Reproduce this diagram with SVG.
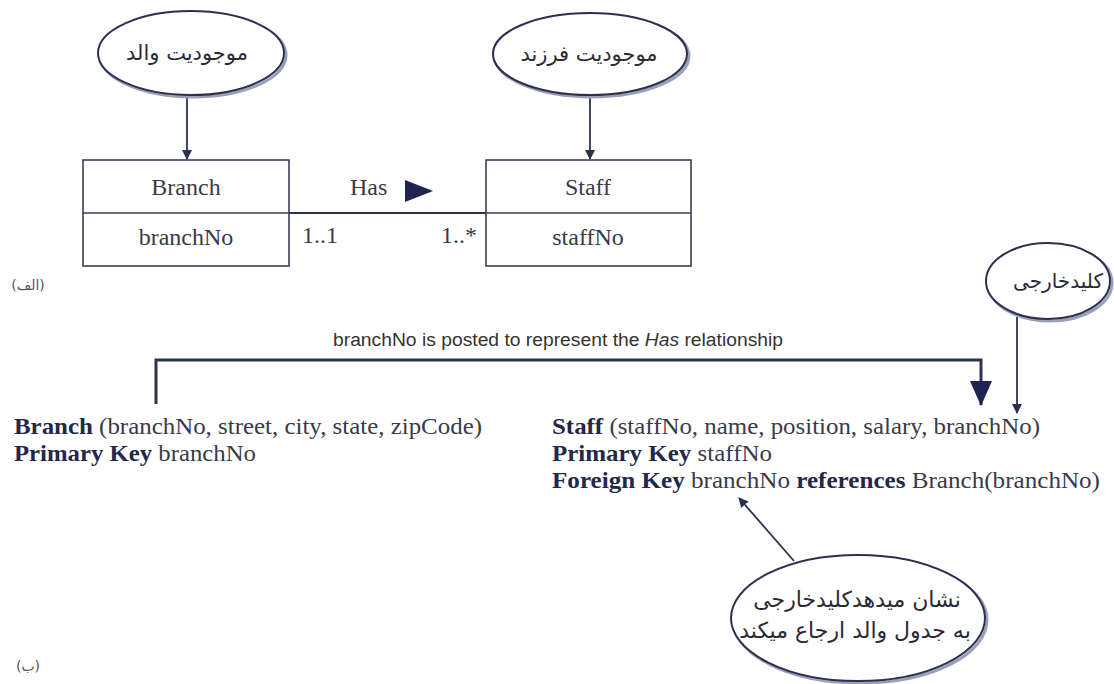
<svg xmlns="http://www.w3.org/2000/svg" width="1114" height="684" viewBox="0 0 1114 684">
<defs>
<style>
.ell{fill:#fff;stroke:#2b3050;stroke-width:2}
.sh{fill:none;stroke:#9aa0b8;stroke-width:3}
.fa{font-family:"DejaVu Sans",sans-serif;font-size:21px;fill:#2a2a35;text-anchor:middle}
.box{fill:#fff;stroke:#3a3f55;stroke-width:1.6}
.ln{fill:none;stroke:#2e3350;stroke-width:1.8}
.sr{font-family:"Liberation Serif",serif;font-size:24px;fill:#3a3a48}
.bx{font-family:"Liberation Serif",serif;font-size:24px;fill:#3a3a48}
.b{font-weight:bold;fill:#232848}
.c{text-anchor:middle}
.sm{font-family:"DejaVu Sans",sans-serif;font-size:14px;fill:#555;text-anchor:middle}
.tt{font-family:"Liberation Sans",sans-serif;font-size:18px;fill:#333;text-anchor:middle}
</style>
<marker id="ah" markerWidth="10" markerHeight="12" refX="9" refY="6" orient="auto" markerUnits="userSpaceOnUse"><path d="M0,1 L10,6 L0,11 Z" fill="#2b3050"/></marker>
<marker id="big" markerWidth="26" markerHeight="22" refX="24" refY="11" orient="auto" markerUnits="userSpaceOnUse"><path d="M0,0 L25,11 L0,22 Z" fill="#1f2550"/></marker>
</defs>

<g id="connectors">
<line class="ln" x1="187" y1="95" x2="187" y2="159" marker-end="url(#ah)"/>
<line class="ln" x1="590" y1="95" x2="590" y2="159" marker-end="url(#ah)"/>
<line class="ln" x1="289" y1="213" x2="486" y2="213"/>
<path class="ln" style="stroke-width:3" d="M156,404 V360 H981 V405" marker-end="url(#big)"/>
<line class="ln" x1="1017" y1="317" x2="1017" y2="413" marker-end="url(#ah)"/>
<line class="ln" x1="794" y1="561" x2="739" y2="498" marker-end="url(#ah)"/>
</g>

<g id="parent-entity">
<ellipse class="sh" cx="193" cy="55" rx="93" ry="42"/>
<ellipse class="ell" cx="191" cy="53" rx="93" ry="42"/>
<text class="fa" x="187" y="60">موجودیت والد</text>
</g>

<g id="child-entity">
<ellipse class="sh" cx="592" cy="56" rx="97" ry="41"/>
<ellipse class="ell" cx="590" cy="54" rx="97" ry="41"/>
<text class="fa" x="589" y="61">موجودیت فرزند</text>
</g>

<g id="branch-box">
<rect class="box" x="83" y="160" width="206" height="106"/>
<line class="box" x1="83" y1="213" x2="289" y2="213"/>
<text class="bx c" x="186" y="195">Branch</text>
<text class="bx c" x="186" y="245">branchNo</text>
</g>

<g id="staff-box">
<rect class="box" x="486" y="160" width="205" height="106"/>
<line class="box" x1="486" y1="213" x2="691" y2="213"/>
<text class="bx c" x="588" y="195">Staff</text>
<text class="bx c" x="588" y="245">staffNo</text>
</g>

<g id="relationship">
<text class="bx" x="350" y="195">Has</text>
<path d="M405,180 L433,191 L405,202 Z" fill="#1f2550"/>
<text class="bx" x="302" y="243">1..1</text>
<text class="bx" x="477" y="243" text-anchor="end">1..*</text>
</g>

<text id="label-a" class="sm" x="28" y="290">(الف)</text>

<text id="caption" class="tt" x="558" y="346" textLength="450" lengthAdjust="spacingAndGlyphs">branchNo is posted to represent the <tspan font-style="italic">Has</tspan> relationship</text>

<g id="fk-ellipse">
<ellipse class="sh" cx="1050" cy="283" rx="62" ry="38"/>
<ellipse class="ell" cx="1048" cy="281" rx="62" ry="38"/>
<text class="fa" x="1058" y="288" style="font-size:20px">کلیدخارجی</text>
</g>

<g id="branch-relation">
<text class="sr" x="14" y="434" textLength="468" lengthAdjust="spacingAndGlyphs"><tspan class="b">Branch</tspan> (branchNo, street, city, state, zipCode)</text>
<text class="sr" x="14" y="461" textLength="242" lengthAdjust="spacingAndGlyphs"><tspan class="b">Primary Key</tspan> branchNo</text>
</g>

<g id="staff-relation">
<text class="sr" x="552" y="434" textLength="488" lengthAdjust="spacingAndGlyphs"><tspan class="b">Staff</tspan> (staffNo, name, position, salary, branchNo)</text>
<text class="sr" x="552" y="461" textLength="220" lengthAdjust="spacingAndGlyphs"><tspan class="b">Primary Key</tspan> staffNo</text>
<text class="sr" x="552" y="488" textLength="548" lengthAdjust="spacingAndGlyphs"><tspan class="b">Foreign Key</tspan> branchNo <tspan class="b">references</tspan> Branch(branchNo)</text>
</g>

<g id="note-ellipse">
<ellipse class="sh" cx="860" cy="620" rx="127" ry="63"/>
<ellipse class="ell" cx="858" cy="618" rx="127" ry="63"/>
<text class="fa" x="857" y="607" style="font-size:22px">نشان میدهدکلیدخارجی</text>
<text class="fa" x="855" y="638" style="font-size:22px">به جدول والد ارجاع میکند</text>
</g>

<text id="label-b" class="sm" x="28" y="671">(ب)</text>
</svg>
